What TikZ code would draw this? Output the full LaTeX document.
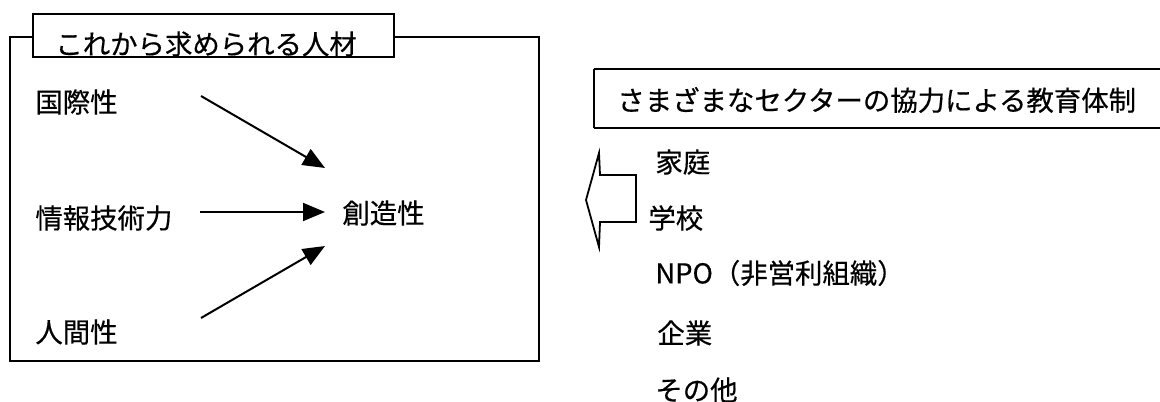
\documentclass[tikz,border=0pt]{standalone}
\usepackage{fontspec}
\setmainfont{Noto Sans CJK JP}[UprightFeatures={FakeBold=0.5}]
\usepackage{tikz}
\usetikzlibrary{arrows.meta,calc}

\begin{document}
\begin{tikzpicture}[x=0.5pt,y=0.5pt,yscale=-1,xscale=1,
        lbl/.style={anchor=west,inner sep=0pt,font=\fontsize{13.7pt}{16pt}\selectfont},
        arr/.style={line width=1pt,-{Triangle[length=11pt,width=9pt]}}]
        \useasboundingbox (0,0) rectangle (1160,401);

        % left frame and its title
        \draw [line width=1pt] (10,37) rectangle (539,361);
        \draw [line width=1pt,fill=white] (33,14) rectangle (394,57);
        \draw (55,44) node [lbl] (title) {これから求められる人材};

        \draw (35,102) node [lbl] (kokusai) {国際性};
        \draw (35,218) node [lbl] (jouhou) {情報技術力};
        \draw (35,332) node [lbl] (ningen) {人間性};
        \draw (342,213) node [lbl] (souzou) {創造性};

        \draw [arr] ($(kokusai.east)+(83,-6)$) -- ($(souzou.west)+(-17,-45)$);
        \draw [arr] ($(jouhou.east)+(27,-6)$) -- ($(souzou.west)+(-17,-1)$);
        \draw [arr] ($(ningen.east)+(83,-14)$) -- ($(souzou.west)+(-17,33)$);

        % right side
        \draw [line width=1pt] (594,69) -- (1175,69) (594,128) -- (1175,128) (594,69) -- (594,128);
        \draw (617,100) node [lbl] (sector) {さまざまなセクターの協力による教育体制};

        \draw [line width=0.9pt,line join=miter] (636,175) -- (600,175) -- (599,153) -- (586,200) -- (599,247) -- (600,222) -- (636,222) -- cycle;

        \draw (655,162) node [lbl] (katei) {家庭};
        \draw (648,218) node [lbl] (gakkou) {学校};
        \draw (655,273) node [lbl] (npo) {NPO（非営利組織）};
        \draw (657,333) node [lbl] (kigyou) {企業};
        \draw (655,390) node [lbl] (sonota) {その他};
    \end{tikzpicture}
\end{document}
